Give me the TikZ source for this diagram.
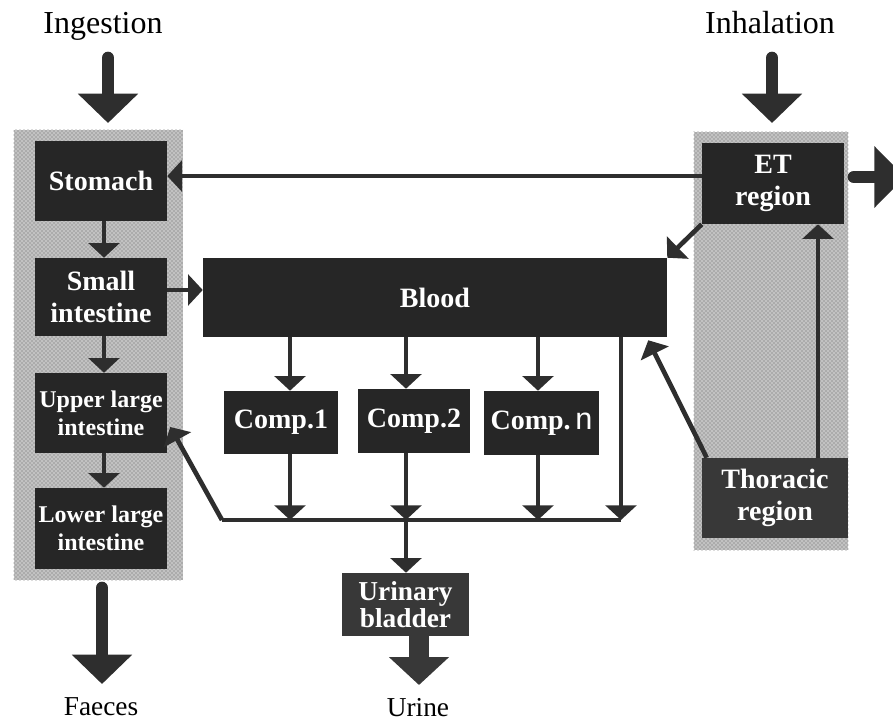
\documentclass[tikz,border=0pt]{standalone}
\usepackage{fontspec}
\setmainfont{Liberation Serif}
\setsansfont{Liberation Sans}
\usetikzlibrary{arrows.meta,patterns,calc}
\definecolor{boxc}{HTML}{262626}
\definecolor{boxl}{HTML}{383838}
\definecolor{arrc}{HTML}{2E2E2E}
\definecolor{panelc}{HTML}{C2C2C2}
\begin{document}
\begin{tikzpicture}[x=0.75pt,y=-0.75pt,
 organ/.style={draw=none, fill=boxc, text=white, font=\bfseries\fontsize{21}{24}\selectfont, align=center, inner sep=0pt},
 organs/.style={organ, font=\bfseries\fontsize{18}{21}\selectfont},
 organl/.style={organ, fill=boxl},
 panel/.style={draw=none, fill=panelc, inner sep=0pt},
 conn/.style={draw=arrc, line width=3.5pt, -{Triangle[width=23pt,length=11pt]}},
 bigarrow/.style={draw=arrc, line width=9.5pt, line cap=round, -{Triangle[width=44pt,length=22pt]}},
 widearrow/.style={draw=boxl, line width=15pt, -{Triangle[width=44pt,length=21pt]}},
 toplab/.style={font=\fontsize{24}{26}\selectfont, inner sep=0pt, anchor=base},
 botlab/.style={font=\fontsize{20.5}{23}\selectfont, inner sep=0pt, anchor=base}
]
\useasboundingbox (0,0) rectangle (893,721);
\clip (0,0) rectangle (893,721);
% panels
\node[panel, minimum width=126.75pt, minimum height=337.5pt] (lpanel) at (98.5,355) {};
\node[panel, minimum width=115.5pt, minimum height=313.5pt] (rpanel) at (771,341) {};
\fill[pattern=crosshatch dots, pattern color=black!60] (lpanel.north west) rectangle (lpanel.south east);
\fill[pattern=crosshatch dots, pattern color=black!60] (rpanel.north west) rectangle (rpanel.south east);
% boxes
\node[organ, minimum width=99pt, minimum height=60pt] (stomach) at (101,181) {Stomach};
\node[organ, minimum width=99pt, minimum height=58.5pt] (small) at (101,297) {Small\\intestine};
\node[organs, minimum width=99pt, minimum height=60pt] (upper) at (101,413) {Upper large\\intestine};
\node[organs, minimum width=99pt, minimum height=60.75pt] (lower) at (101,528.5) {Lower large\\intestine};
\node[organ, minimum width=348pt, minimum height=59.25pt] (blood) at (435,297.5) {Blood};
\node[organ, minimum width=85.5pt, minimum height=47.25pt] (comp1) at (281,422.5) {Comp.1};
\node[organ, minimum width=84pt, minimum height=48pt] (comp2) at (414,421) {Comp.2};
\node[organ, minimum width=86.25pt, minimum height=48pt] (compn) at (541.5,423) {Comp.\,{\sffamily\mdseries\fontsize{23}{24}\selectfont n}};
\node[organl, font=\bfseries\fontsize{20.5}{20}\selectfont, minimum width=95.25pt, minimum height=47.25pt] (bladder) at (405.5,604.5) {Urinary\\bladder};
\node[organ, minimum width=106.5pt, minimum height=60.75pt] (et) at (773,183.5) {ET\\region};
\node[organl, minimum width=109.5pt, minimum height=60pt] (thor) at (775,498) {Thoracic\\region};
% labels
\node[toplab] (ing) at (103,33) {Ingestion};
\node[toplab] (inh) at (770,33) {Inhalation};
\node[botlab] (fae) at (101,715) {Faeces};
\node[botlab] (uri) at (418,716) {Urine};
% helper coordinates
\coordinate (xL) at (104,0);
\coordinate (ySB) at (0,290);
\coordinate (yES) at (0,176);
\coordinate (xT) at (818,0);
\coordinate (v1) at (290,0);
\coordinate (v2) at (406,0);
\coordinate (v3) at (538,0);
\coordinate (v4) at (621,0);
\coordinate (busL) at (222,520);
\coordinate (busR) at (621,520);
\coordinate (ingA) at (108,58);
\coordinate (ingB) at (108,123);
\coordinate (inhA) at (772,58);
\coordinate (inhB) at (772,123);
\coordinate (faeA) at (102,588);
\coordinate (faeB) at (102,684);
\coordinate (uriA) at (419,636);
\coordinate (uriB) at (419,685);
\coordinate (etoA) at (854,177);
\coordinate (etoB) at (905,177);
% gut chain
\draw[conn] (xL |- stomach.south) -- (xL |- small.north);
\draw[conn] (xL |- small.south) -- (xL |- upper.north);
\draw[conn] (xL |- upper.south) -- (xL |- lower.north);
\draw[conn] (small.east |- ySB) -- (blood.west |- ySB);
% respiratory
\draw[conn] (et.west |- yES) -- (stomach.east |- yES);
\draw[conn] (et.south west) -- (blood.north east);
\draw[conn] (xT |- thor.north) -- (xT |- et.south);
\draw[conn] ($(thor.north west)+(5,0)$) -- ($(blood.south east)+(-19,3)$);
% blood to compartments
\draw[conn] (v1 |- blood.south) -- (v1 |- comp1.north);
\draw[conn] (v2 |- blood.south) -- (v2 |- comp2.north);
\draw[conn] (v3 |- blood.south) -- (v3 |- compn.north);
\draw[conn] (v4 |- blood.south) -- (v4 |- busR);
\draw[conn] (v1 |- comp1.south) -- (v1 |- busL);
\draw[conn] (v2 |- comp2.south) -- (v2 |- busL);
\draw[conn] (v3 |- compn.south) -- (v3 |- busL);
\draw[draw=arrc, line width=3.5pt] (busR) -- (busL);
\draw[conn] (busL) -- ($(upper.east)+(3,14)$);
\draw[conn] (v2 |- busL) -- (v2 |- bladder.north);
% intake / excretion arrows
\draw[bigarrow] (ingA) -- (ingB);
\draw[bigarrow] (inhA) -- (inhB);
\draw[bigarrow] (faeA) -- (faeB);
\draw[widearrow] (uriA) -- (uriB);
\draw[bigarrow, -{Triangle[width=45pt,length=23pt]}] (etoA) -- (etoB);
\end{tikzpicture}
\end{document}
